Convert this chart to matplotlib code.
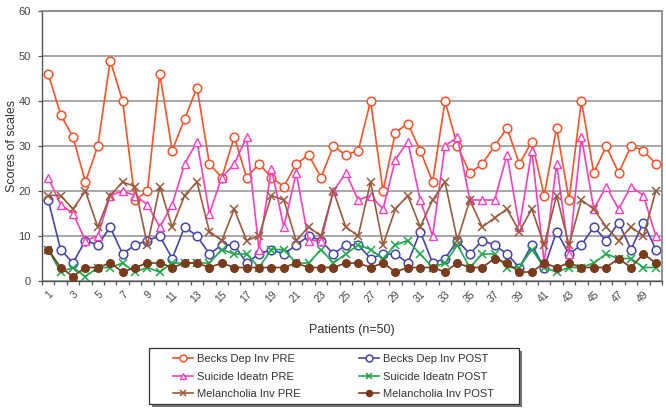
import matplotlib
matplotlib.use("Agg")
import matplotlib.pyplot as plt
import matplotlib.transforms as mtransforms
from matplotlib.patches import Rectangle
import numpy as np

plt.rcParams['font.family'] = ['Liberation Sans', 'DejaVu Sans']

patients = list(range(1, 51))

becks_pre = [46, 37, 32, 22, 30, 49, 40, 18, 20, 46,
             29, 36, 43, 26, 23, 32, 23, 26, 23, 21,
             26, 28, 23, 30, 28, 29, 40, 20, 33, 35,
             29, 22, 40, 30, 24, 26, 30, 34, 26, 31,
             19, 34, 18, 40, 24, 30, 24, 30, 29, 26]
becks_post = [18, 7, 4, 9, 8, 12, 6, 8, 9, 10,
              5, 12, 10, 6, 8, 8, 4, 6, 7, 6,
              8, 10, 9, 6, 8, 8, 5, 6, 6, 4,
              11, 4, 5, 9, 6, 9, 8, 6, 3, 8,
              3, 11, 6, 8, 12, 9, 13, 7, 13, 7]
suicide_pre = [23, 17, 15, 9, 10, 19, 20, 19, 17, 12,
               17, 26, 31, 15, 23, 26, 32, 7, 25, 12,
               24, 9, 9, 20, 24, 18, 19, 16, 27, 31,
               18, 10, 30, 32, 18, 18, 18, 28, 12, 29,
               4, 26, 6, 32, 16, 21, 16, 21, 19, 10]
suicide_post = [7, 2, 3, 1, 3, 3, 4, 2, 3, 2,
                4, 4, 4, 4, 7, 6, 6, 3, 7, 7,
                4, 4, 7, 4, 6, 8, 7, 5, 8, 9,
                6, 3, 4, 8, 3, 6, 6, 3, 3, 7,
                3, 2, 3, 3, 4, 6, 5, 5, 3, 3]
melan_pre = [19, 19, 16, 20, 12, 19, 22, 21, 8, 21,
             12, 19, 22, 11, 9, 16, 9, 10, 19, 18,
             9, 12, 10, 20, 12, 10, 22, 8, 16, 19,
             12, 18, 22, 9, 18, 12, 14, 16, 11, 16,
             8, 19, 8, 18, 16, 12, 9, 12, 10, 20]
melan_post = [7, 3, 1, 3, 3, 4, 2, 3, 4, 4,
              3, 4, 4, 3, 4, 3, 3, 3, 3, 3,
              4, 3, 3, 3, 4, 4, 3, 4, 2, 3,
              3, 3, 2, 4, 3, 3, 5, 4, 2, 2,
              4, 3, 4, 3, 3, 3, 5, 3, 6, 4]

series_names = ["Becks Dep Inv PRE", "Becks Dep Inv POST",
                "Suicide Ideatn PRE", "Suicide Ideatn POST",
                "Melancholia Inv PRE", "Melancholia Inv POST"]
y_ticks = [0, 10, 20, 30, 40, 50, 60]
x_labels = [str(p) for p in patients[::2]]

fig = plt.figure(figsize=(6.66, 4.08), dpi=100)
ax = fig.add_axes([42/666, 1-281/408, 620/666, 270/408])

styles = [
    dict(color='#FF5227', marker='o', mfc='white', ms=6.2, mew=1.1),
    dict(color='#4545B0', marker='o', mfc='white', ms=6.2, mew=1.1),
    dict(color='#FF3DBE', marker='^', mfc='white', ms=6.2, mew=1.0),
    dict(color='#1EA84A', marker='x', ms=5.5, mew=1.1),
    dict(color='#9B5A3C', marker='x', ms=5.5, mew=1.1),
    dict(color='#7A3A1C', marker='o', ms=5.5, mew=1.0),
]
data = [becks_pre, becks_post, suicide_pre, suicide_post, melan_pre, melan_post]
handles = []
for name, vals, st in zip(series_names, data, styles):
    h, = ax.plot(patients, vals, lw=1.2, label=name, **st)
    handles.append(h)

ax.set_xlim(0.5, 50.5)
ax.set_ylim(0, 60)
ax.set_yticks(y_ticks)
ax.yaxis.grid(True, color='#A0A0A0', lw=1.3)
ax.set_axisbelow(True)

ax.set_xticks(patients[::2])
ax.set_xticklabels(x_labels, rotation=45, ha='right', va='top',
                   rotation_mode='anchor', fontsize=7.5, color='#444444')
shift = mtransforms.ScaledTranslation(-0.11, 0, fig.dpi_scale_trans)
for lbl in ax.get_xticklabels():
    lbl.set_transform(lbl.get_transform() + shift)
ax.set_xticks(np.arange(0.5, 51.0, 1.0), minor=True)
ax.tick_params(axis='x', which='major', length=0, pad=6)
ax.tick_params(axis='x', which='minor', length=3, width=0.9, color='#555555', direction='out')
ax.tick_params(axis='y', length=3, width=0.9, color='#555555', labelsize=8, labelcolor='#444444', pad=5)

for s in ['top', 'right']:
    ax.spines[s].set_color('#8A8A8A')
    ax.spines[s].set_linewidth(1.3)
for s in ['left', 'bottom']:
    ax.spines[s].set_color('#555555')
    ax.spines[s].set_linewidth(1.0)

ax.set_ylabel("Scores of scales", fontsize=9, color='#333333')
ax.yaxis.set_label_coords((18-42)/620, 0.5)
ax.set_xlabel("Patients (n=50)", fontsize=9, color='#333333', labelpad=14)

# legend frame with shadow
W, H = 666, 408
fig.patches.append(Rectangle(((149+3)/W, 1-(404+3)/H), 370/W, 56/H,
                             transform=fig.transFigure, facecolor='#777777',
                             edgecolor='none', zorder=1))
fig.patches.append(Rectangle((149/W, 1-404/H), 370/W, 56/H,
                             transform=fig.transFigure, facecolor='white',
                             edgecolor='#333333', lw=0.9, zorder=2))

order = [0, 2, 4, 1, 3, 5]
leg = fig.legend([handles[i] for i in order], [series_names[i] for i in order],
                 ncol=2, loc='upper left', bbox_to_anchor=(173/W, 1-354/H),
                 fontsize=8, frameon=False, markerscale=0.8,
                 handlelength=1.8, handletextpad=0.35, columnspacing=5.3,
                 borderpad=0, labelspacing=0.68, borderaxespad=0)
leg.set_zorder(5)
for t in leg.get_texts():
    t.set_color('#333333')

fig.savefig("out.png", dpi=100)
